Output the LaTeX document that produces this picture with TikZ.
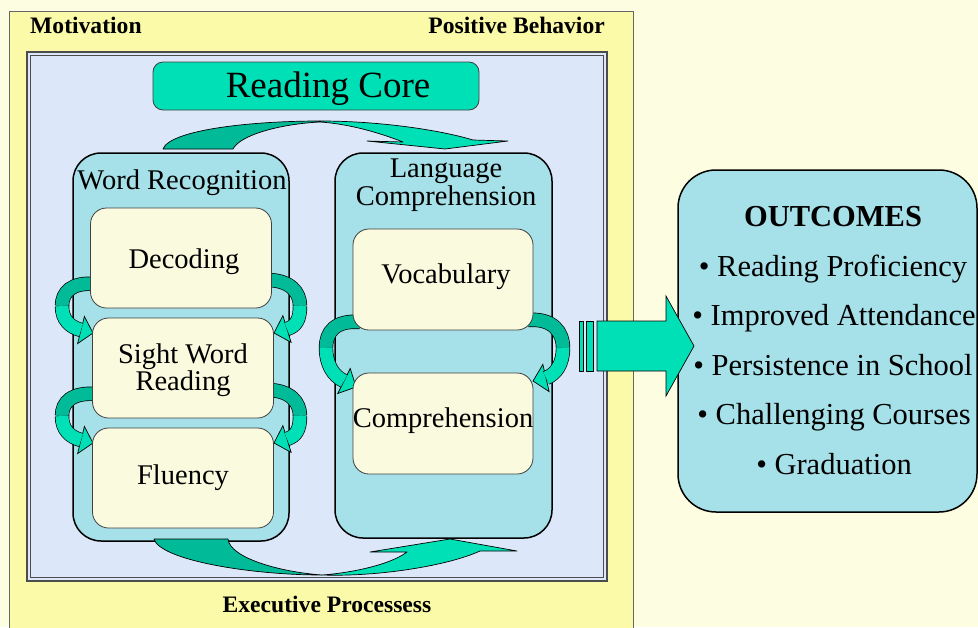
\documentclass[tikz,border=0pt]{standalone}
\usepackage{fontspec}
\setmainfont{Liberation Serif}
\usetikzlibrary{calc}
\definecolor{pagebg}{HTML}{FDFDE2}
\definecolor{yelbox}{HTML}{FAFAA8}
\definecolor{framebg}{HTML}{DCE8FA}
\definecolor{contc}{HTML}{A6E0E8}
\definecolor{boxc}{HTML}{FAFADF}
\definecolor{tealL}{HTML}{00E0B6}
\definecolor{tealD}{HTML}{00BA98}
\newcommand\ribarrow[8]{%
  \filldraw[fill=tealL, draw=black, line width=0.7pt, line join=miter] ($#7!14pt!90:#8$) -- #8 -- ($#7!14pt!-90:#8$) -- cycle;
  \draw[ribd] #1 .. controls #2 and #3 .. #4;
  \draw[ribl] #4 .. controls #5 and #6 .. #7;
}
\begin{document}
\begin{tikzpicture}[x=1pt,y=-1pt,
  cont/.style={draw=black, line width=1.5pt, fill=contc, rounded corners=28pt, inner sep=0pt, outer sep=0pt},
  ibox/.style={draw=black!75, line width=0.8pt, fill=boxc, rounded corners=16pt, inner sep=0pt, outer sep=0pt, minimum width=181pt, minimum height=100pt},
  lbl/.style={font=\fontsize{28.5}{28}\selectfont, inner sep=0pt, anchor=base},
  olbl/.style={font=\fontsize{30.5}{30}\selectfont, inner sep=0pt, anchor=base},
  hdr/.style={font=\bfseries\fontsize{23.6}{26}\selectfont, inner sep=0pt, anchor=base},
  ribd/.style={draw=black, line width=0.7pt, double=tealD, double distance=13pt},
  ribl/.style={draw=black, line width=0.7pt, double=tealL, double distance=13pt},
  blob/.style={draw=black, line width=0.7pt, line join=round}]
\useasboundingbox (0,0) rectangle (978,627);
\fill[pagebg] (0,0) rectangle (978,627);
% yellow outer box
\draw[fill=yelbox, draw=black!60, line width=0.8pt] (9,11) rectangle (633,640);
\node[hdr, anchor=base west] (motiv) at (30,33) {Motivation};
\node[hdr, anchor=base east] (posb) at (605,33) {Positive Behavior};
\node[hdr] (exec) at (327,612) {Executive Processess};
% inner frame
\draw[fill=framebg, draw=black!70, line width=1.2pt] (27,52) rectangle (607,581);
\draw[draw=black!70, line width=0.8pt] (30.5,55.5) rectangle (603.5,577.5);
% reading core
\node[draw=black!75, line width=0.8pt, fill=tealL, rounded corners=10pt, minimum width=326pt, minimum height=48pt, inner sep=0pt] (core) at (316,86) {};
\node[font=\fontsize{37}{37}\selectfont, inner sep=0pt, anchor=base] (coretxt) at (328,97) {Reading Core};
% containers
\node[cont, minimum width=216pt, minimum height=388pt] (wr) at (181,347) {};
\node[cont, minimum width=217pt, minimum height=385pt] (lc) at (443.5,345.5) {};
\node[lbl] (wrt) at (182,189) {Word Recognition};
\node[lbl] (lct1) at (446,177) {Language};
\node[lbl] (lct2) at (446,205) {Comprehension};
% top arc
\draw[blob, fill=tealD] (163,149) .. controls (170,130) and (250,121) .. (320,121)
  -- (320,122) .. controls (280,124) and (240,135) .. (233,149) -- cycle;
\draw[blob, fill=tealL] (320,121) .. controls (380,121) and (440,130) .. (473,140)
  -- (508,141) -- (445,149) -- (367,141) -- (403,142)
  .. controls (380,133) and (350,124) .. (320,122) -- cycle;
% bottom arc
\draw[blob, fill=tealD] (154,539) .. controls (160,560) and (250,575) .. (322,575)
  .. controls (280,572) and (230,558) .. (228,539) -- cycle;
\draw[blob, fill=tealL] (322,575) .. controls (380,577) and (450,565) .. (480,551)
  -- (517,551) -- (450,539) -- (370,552) -- (407,552)
  .. controls (390,565) and (350,573) .. (322,575) -- cycle;
% side ribbons, word recognition
\ribarrow{(95,284)}{(72,282)}{(62,292)}{(62,306)}{(62,320)}{(70,327)}{(81,330)}{(93,333)}
\ribarrow{(267,280)}{(290,280)}{(300,292)}{(300,306)}{(300,320)}{(296,326)}{(287,329)}{(274,333)}
\ribarrow{(97,394)}{(72,392)}{(62,402)}{(62,416)}{(62,430)}{(70,437)}{(81,440)}{(93,443)}
\ribarrow{(267,390)}{(290,390)}{(300,402)}{(300,416)}{(300,430)}{(296,436)}{(287,439)}{(274,443)}
% side ribbons, language comprehension
\ribarrow{(360,322)}{(335,320)}{(326,332)}{(326,348)}{(326,364)}{(333,376)}{(344,381)}{(356,387)}
\ribarrow{(528,320)}{(553,318)}{(563,332)}{(563,348)}{(563,364)}{(556,374)}{(546,378)}{(533,381)}
% inner boxes
\node[ibox] (dec) at (181,258) {};
\node[ibox] (swr) at (183,368) {};
\node[ibox] (flu) at (183,478) {};
\node[ibox, minimum width=180pt, minimum height=101pt] (voc) at (443,279.5) {};
\node[ibox, minimum width=180pt, minimum height=101pt] (comp) at (443,423.5) {};
\node[lbl] (dect) at (184,268) {Decoding};
\node[lbl] (swrt1) at (183,363) {Sight Word};
\node[lbl] (swrt2) at (183,390) {Reading};
\node[lbl] (flut) at (183,484) {Fluency};
\node[lbl] (voct) at (446,283) {Vocabulary};
\node[lbl] (compt) at (443,427) {Comprehension};
% outcomes
\node[cont, rounded corners=38pt, minimum width=299pt, minimum height=342pt] (out) at (827.5,341) {};
\node[olbl, font=\bfseries\fontsize{30.5}{30}\selectfont] (outt) at (833,226) {OUTCOMES};
\node[olbl] (o1) at (833,276) {• Reading Proficiency};
\node[olbl] (o2) at (834,325.5) {• Improved Attendance};
\node[olbl] (o3) at (833,375) {• Persistence in School};
\node[olbl] (o4) at (834,424.5) {• Challenging Courses};
\node[olbl] (o5) at (834,474) {• Graduation};
% block arrow
\draw[blob, fill=tealL] (579,321) rectangle (583,371);
\draw[blob, fill=tealL] (586,321) rectangle (593,371);
\draw[blob, fill=tealL, line join=miter] (597,321) -- (666,321) -- (666,296) -- (694,346) -- (666,396) -- (666,371) -- (597,371) -- cycle;
\end{tikzpicture}
\end{document}
